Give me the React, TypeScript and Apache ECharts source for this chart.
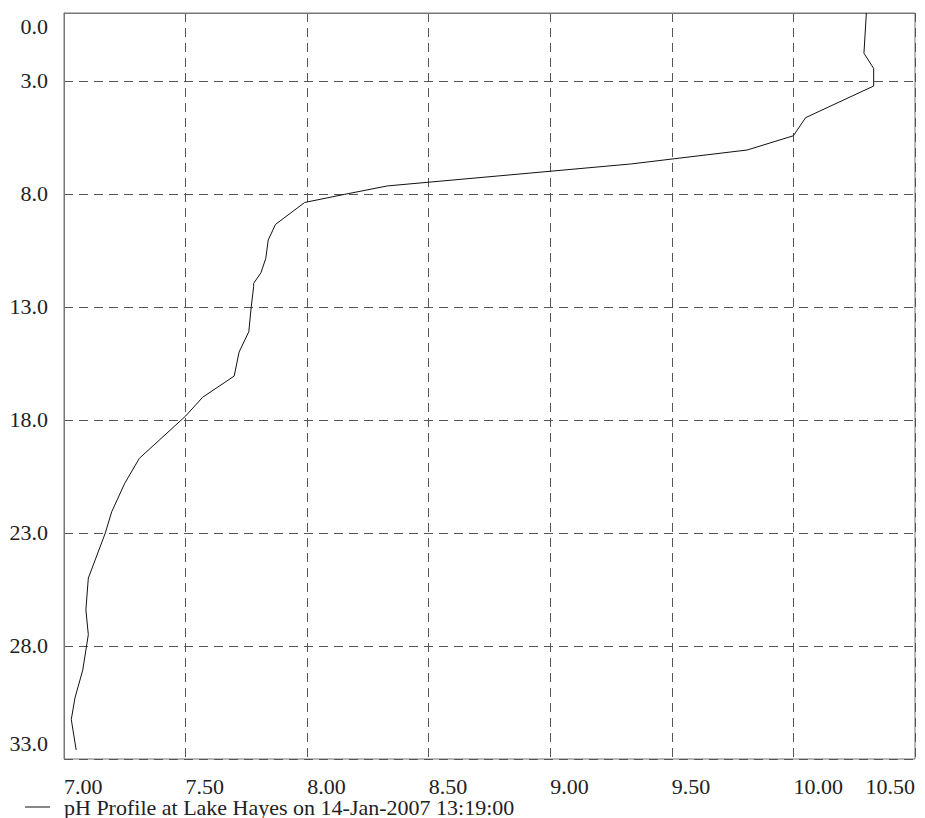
import React, { useEffect, useRef } from "react";
import * as echarts from "echarts";

// pH profile samples: depth (m) and pH reading at that depth
const depths = [
  0, 1.78, 2.45, 3.23, 4.63, 5.43, 6.06, 6.68, 7.65, 8.02, 8.38, 9.35, 10.04,
  10.85, 11.49, 11.96, 12.1, 13.0, 14.1, 15.0, 16.06, 17.0, 17.83, 19.7, 20.8,
  22.07, 23.0, 25.0, 26.4, 27.5, 29.07, 30.3, 31.25, 32.6,
];
const phValues = [
  10.3, 10.29, 10.33, 10.33, 10.05, 10.0, 9.81, 9.33, 8.33, 8.155, 7.99, 7.87,
  7.84, 7.83, 7.81, 7.78, 7.78, 7.77, 7.76, 7.72, 7.7, 7.57, 7.5, 7.31, 7.25,
  7.196, 7.17, 7.1, 7.09, 7.1, 7.077, 7.045, 7.03, 7.05,
];

const depthTicks = [0, 3, 8, 13, 18, 23, 28, 33];
const seriesName = "pH Profile at Lake Hayes on 14-Jan-2007 13:19:00";

const FONT = "'Liberation Serif', 'DejaVu Serif', serif";
const FONT_SIZE = 22;

export default function App() {
  const ref = useRef<HTMLDivElement>(null);

  useEffect(() => {
    if (!ref.current) return;
    const chart = echarts.init(ref.current, undefined, { renderer: "svg" });
    const data = depths.map((d, i) => [phValues[i], d]);

    chart.setOption({
      animation: false,
      backgroundColor: "#ffffff",
      grid: {
        left: 64,
        top: 13,
        right: 10,
        bottom: 59,
        show: true,
        borderColor: "#777777",
        borderWidth: 1,
      },
      legend: {
        left: 25,
        top: 796,
        padding: 0,
        icon: "rect",
        itemWidth: 25,
        itemHeight: 1,
        data: [seriesName],
        textStyle: {
          fontFamily: FONT,
          fontSize: FONT_SIZE,
          lineHeight: 18,
          color: "#222222",
          padding: [0, 0, 0, 9],
        },
      },
      xAxis: {
        type: "value",
        min: 7,
        max: 10.5,
        interval: 0.5,
        axisLine: { show: true, lineStyle: { color: "#777777" } },
        axisTick: { show: false },
        splitLine: {
          show: true,
          lineStyle: { color: "#555555", type: [9, 6], width: 1 },
        },
        axisLabel: {
          fontFamily: FONT,
          fontSize: FONT_SIZE,
          lineHeight: 18,
          color: "#222222",
          margin: 18,
          align: "left",
          alignMaxLabel: "right",
          formatter: (v: number) => v.toFixed(2),
        },
      },
      yAxis: {
        type: "value",
        inverse: true,
        min: 0,
        max: 33,
        axisLine: { show: true, lineStyle: { color: "#777777" } },
        axisTick: { show: false, customValues: depthTicks },
        splitLine: {
          show: true,
          lineStyle: { color: "#555555", type: [9, 6], width: 1 },
        },
        axisLabel: {
          customValues: depthTicks,
          fontFamily: FONT,
          fontSize: FONT_SIZE,
          color: "#222222",
          margin: 16,
          formatter: (v: number) => {
            const s = v.toFixed(1);
            if (v === depthTicks[0]) return "{first|" + s + "}";
            if (v === depthTicks[depthTicks.length - 1]) return "{last|" + s + "}";
            return s;
          },
          rich: {
            first: {
              fontFamily: FONT,
              fontSize: FONT_SIZE,
              color: "#222222",
              padding: [26, 0, 0, 0],
            },
            last: {
              fontFamily: FONT,
              fontSize: FONT_SIZE,
              color: "#222222",
              padding: [0, 0, 32, 0],
            },
          },
        },
      },
      series: [
        {
          name: seriesName,
          type: "line",
          data,
          symbol: "none",
          lineStyle: { color: "#111111", width: 1 },
          itemStyle: { color: "#111111" },
        },
      ],
    });

    return () => chart.dispose();
  }, []);

  return (
    <div
      ref={ref}
      style={{ position: "fixed", left: 0, top: 0, width: 925, height: 818 }}
    />
  );
}
